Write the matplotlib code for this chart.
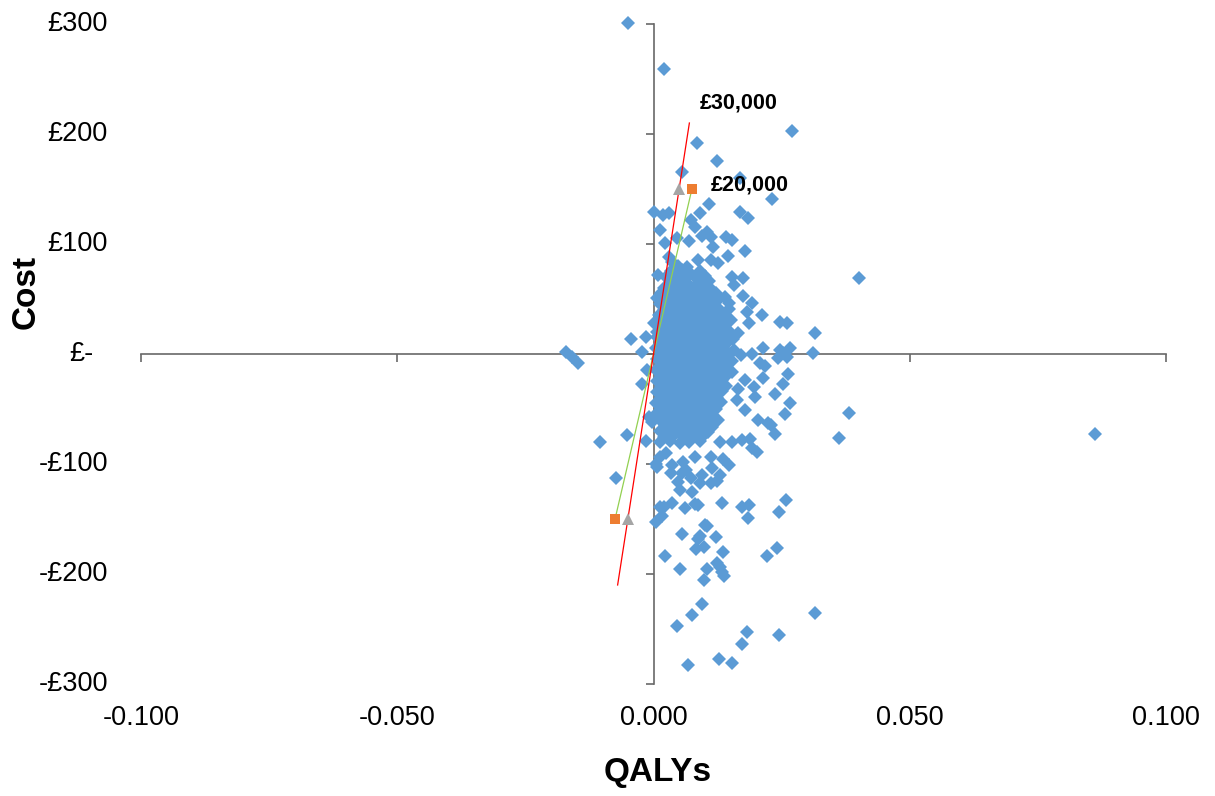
import matplotlib.pyplot as plt

plt.rcParams['font.family'] = ['Liberation Sans', 'DejaVu Sans']

outer_pts = [
    (-0.0049, 301), (0.0020, 259), (0.0084, 192), (0.0271, 203), (0.0123, 175),
    (0.0055, 165), (0.0168, 160), (0.0232, 141), (0.0109, 136), (0.0000, 129),
    (0.0018, 126), (0.0031, 128), (0.0168, 129), (0.0184, 124), (0.0074, 122),
    (0.0090, 128), (0.0012, 113), (0.0080, 115), (0.0104, 111), (0.0094, 107),
    (0.0113, 106), (0.0141, 106), (0.0154, 104), (0.0045, 105), (0.0070, 103),
    (0.0023, 101), (0.0117, 97), (0.0178, 94), (0.0145, 89), (0.0086, 85),
    (0.0113, 85), (0.0125, 83), (0.0031, 88), (0.0037, 84), (0.0008, 72),
    (0.0154, 70), (0.0174, 69), (0.0158, 63), (0.0139, 52), (0.0174, 53),
    (0.0148, 46), (0.0193, 46), (0.0006, 51), (0.0211, 35), (0.0186, 28),
    (0.0246, 29), (0.0260, 28), (0.0000, 28), (-0.0043, 14), (-0.0014, 15),
    (0.0006, 20), (-0.0023, 2), (-0.0170, 2), (-0.0160, -3), (-0.0148, -8),
    (0.0213, 5), (0.0246, 4), (0.0266, 5), (0.0193, 0), (0.0242, -4),
    (0.0260, -3), (0.0207, -8), (0.0400, 69), (0.0316, 19), (0.0312, 1),
    (0.0252, 1), (0.0182, 38), (0.0262, -18), (0.0252, -27), (0.0238, -36),
    (0.0266, -45), (0.0256, -55), (0.0199, -39), (0.0213, -22), (0.0217, -11),
    (0.0164, -32), (0.0178, -24), (0.0197, -30), (0.0162, -42), (0.0178, -51),
    (0.0203, -60), (0.0223, -63), (0.0230, -65), (0.0238, -73), (0.0188, -77),
    (0.0172, -78), (0.0193, -85), (0.0201, -89), (0.0381, -54), (0.0361, -76),
    (0.0861, -73),
    (-0.0023, -27), (-0.0012, -15), (-0.0008, -57), (-0.0002, -62), (-0.0051, -74),
    (-0.0105, -80), (-0.0014, -79), (-0.0074, -113),
]

lower_pts = [
    (0.0006, -103), (0.0012, -94), (0.0025, -90), (0.0037, -101), (0.0057, -98),
    (0.0080, -94), (0.0113, -94), (0.0135, -95), (0.0148, -101), (0.0129, -80),
    (0.0154, -80), (0.0115, -104), (0.0129, -110), (0.0123, -115), (0.0113, -117),
    (0.0094, -110), (0.0090, -117), (0.0074, -113), (0.0064, -105), (0.0055, -108),
    (0.0047, -116), (0.0051, -124), (0.0035, -108), (0.0076, -125), (0.0004, -100),
    (0.0012, -139), (0.0021, -139), (0.0037, -135), (0.0004, -153), (0.0016, -147),
    (0.0062, -140), (0.0080, -136), (0.0086, -137), (0.0133, -135), (0.0172, -139),
    (0.0186, -137), (0.0184, -149), (0.0244, -144), (0.0258, -133), (0.0055, -164),
    (0.0100, -155), (0.0105, -156), (0.0090, -165), (0.0086, -168), (0.0121, -166),
    (0.0082, -177), (0.0098, -175), (0.0135, -180), (0.0023, -184), (0.0051, -195),
    (0.0105, -195), (0.0123, -190), (0.0129, -194), (0.0133, -198), (0.0137, -202),
    (0.0098, -205), (0.0221, -184), (0.0240, -176), (0.0094, -227), (0.0076, -237),
    (0.0045, -247), (0.0316, -235), (0.0182, -253), (0.0172, -264), (0.0244, -255),
    (0.0068, -283), (0.0127, -277), (0.0154, -281),
]

core_pts = [
    (0.0048, 80), (0.0066, 79),
    (0.0035, 75), (0.0055, 76), (0.0072, 74), (0.0090, 75),
    (0.0024, 70), (0.0042, 71), (0.0063, 69), (0.0081, 70), (0.0100, 71),
    (0.0033, 65), (0.0052, 66), (0.0068, 64), (0.0091, 65), (0.0108, 66),
    (0.0021, 60), (0.0040, 61), (0.0058, 59), (0.0077, 60), (0.0096, 61), (0.0113, 59),
    (0.0014, 55), (0.0031, 56), (0.0049, 54), (0.0066, 55), (0.0085, 56), (0.0102, 54), (0.0121, 55),
    (0.0022, 50), (0.0040, 51), (0.0059, 49), (0.0076, 50), (0.0093, 51), (0.0110, 49), (0.0128, 50),
    (0.0012, 45), (0.0030, 46), (0.0048, 44), (0.0067, 45), (0.0085, 46), (0.0102, 44), (0.0119, 45),
    (0.0021, 40), (0.0039, 41), (0.0057, 39), (0.0075, 40), (0.0094, 41), (0.0111, 39), (0.0130, 40), (0.0147, 41),
    (0.0011, 35), (0.0029, 36), (0.0048, 34), (0.0066, 35), (0.0084, 36), (0.0103, 34), (0.0121, 35), (0.0138, 36),
    (0.0020, 30), (0.0038, 31), (0.0057, 29), (0.0074, 30), (0.0093, 31), (0.0111, 29), (0.0129, 30), (0.0152, 31),
    (0.0008, 25), (0.0028, 26), (0.0046, 24), (0.0065, 25), (0.0083, 26), (0.0101, 24), (0.0120, 25), (0.0139, 26),
    (0.0018, 20), (0.0037, 21), (0.0055, 19), (0.0074, 20), (0.0092, 21), (0.0110, 19), (0.0128, 20), (0.0147, 21), (0.0165, 19),
    (0.0007, 15), (0.0027, 16), (0.0046, 14), (0.0064, 15), (0.0082, 16), (0.0101, 14), (0.0119, 15), (0.0137, 16), (0.0156, 14),
    (0.0017, 10), (0.0036, 11), (0.0054, 9), (0.0073, 10), (0.0091, 11), (0.0109, 9), (0.0128, 10), (0.0146, 11),
    (0.0005, 5), (0.0026, 6), (0.0045, 4), (0.0063, 5), (0.0081, 6), (0.0100, 4), (0.0118, 5), (0.0136, 6), (0.0158, 4),
    (0.0016, 0), (0.0035, 1), (0.0053, -1), (0.0072, 0), (0.0090, 1), (0.0108, -1), (0.0127, 0), (0.0145, 1), (0.0170, -1),
    (0.0006, -5), (0.0025, -4), (0.0044, -6), (0.0062, -5), (0.0081, -4), (0.0099, -6), (0.0117, -5), (0.0136, -4), (0.0154, -6),
    (0.0016, -10), (0.0034, -9), (0.0053, -11), (0.0071, -10), (0.0089, -9), (0.0108, -11), (0.0126, -10), (0.0144, -9),
    (0.0005, -15), (0.0025, -14), (0.0043, -16), (0.0062, -15), (0.0080, -14), (0.0098, -16), (0.0117, -15), (0.0135, -14), (0.0153, -16),
    (0.0015, -20), (0.0034, -19), (0.0052, -21), (0.0070, -20), (0.0089, -19), (0.0107, -21), (0.0125, -20), (0.0143, -19),
    (0.0006, -25), (0.0024, -24), (0.0043, -26), (0.0061, -25), (0.0079, -24), (0.0098, -26), (0.0116, -25), (0.0134, -24),
    (0.0015, -30), (0.0033, -29), (0.0051, -31), (0.0070, -30), (0.0088, -29), (0.0106, -31), (0.0124, -30), (0.0142, -29),
    (0.0006, -35), (0.0024, -34), (0.0042, -36), (0.0060, -35), (0.0079, -34), (0.0097, -36), (0.0115, -35), (0.0133, -34),
    (0.0014, -40), (0.0032, -39), (0.0051, -41), (0.0069, -40), (0.0087, -39), (0.0105, -41), (0.0123, -40),
    (0.0005, -45), (0.0023, -44), (0.0042, -46), (0.0060, -45), (0.0078, -44), (0.0096, -46), (0.0114, -45), (0.0131, -44),
    (0.0014, -50), (0.0032, -49), (0.0050, -51), (0.0068, -50), (0.0087, -49), (0.0104, -51), (0.0122, -50),
    (0.0004, -55), (0.0023, -54), (0.0041, -56), (0.0059, -55), (0.0077, -54), (0.0095, -56), (0.0113, -55),
    (0.0013, -60), (0.0031, -59), (0.0050, -61), (0.0068, -60), (0.0086, -59), (0.0104, -61), (0.0125, -60),
    (0.0022, -65), (0.0040, -64), (0.0058, -66), (0.0079, -65), (0.0096, -64), (0.0115, -66),
    (0.0012, -70), (0.0031, -69), (0.0049, -71), (0.0068, -70), (0.0088, -69), (0.0107, -71),
    (0.0021, -75), (0.0040, -74), (0.0060, -76), (0.0078, -75), (0.0099, -74),
    (0.0013, -80), (0.0032, -79), (0.0051, -81), (0.0070, -80), (0.0090, -79),
]

# threshold markers and lines
wtp20_q = [-0.0075, 0.0075]
wtp20_c = [-150, 150]
wtp30_q = [-0.005, 0.005]
wtp30_c = [-150, 150]
line30_q = [-0.007, 0.007]
line30_c = [-210, 210]

x_ticks = [-0.1, -0.05, 0.0, 0.05, 0.1]
x_labels = ['-0.100', '-0.050', '0.000', '0.050', '0.100']
y_ticks = [300, 200, 100, 0, -100, -200, -300]
y_labels = ['£300', '£200', '£100', '£-', '-£100', '-£200', '-£300']

all_pts = outer_pts + lower_pts + core_pts
qaly = [p[0] for p in all_pts]
cost = [p[1] for p in all_pts]

fig = plt.figure(figsize=(12.15, 7.96), dpi=100)
ax = fig.add_axes([141 / 1215, 112 / 796, 1025 / 1215, 660 / 796])
ax.set_xlim(-0.1, 0.1)
ax.set_ylim(-300, 300)

axis_col = '#686868'
for side in ['top', 'right']:
    ax.spines[side].set_visible(False)
for side in ['left', 'bottom']:
    ax.spines[side].set_position(('data', 0))
    ax.spines[side].set_color(axis_col)
    ax.spines[side].set_linewidth(1.2)
ax.set_xticks(x_ticks)
ax.set_yticks(y_ticks)
ax.tick_params(axis='both', direction='out', length=6, width=1.2, color=axis_col,
               labelbottom=False, labelleft=False)

ax.plot(qaly, cost, ls='none', marker='D', ms=7.2, color='#5B9BD5', mew=0,
        zorder=3, clip_on=False)

ax.plot(wtp20_q, wtp20_c, color='#92D050', lw=0.9, zorder=4)
ax.plot(wtp20_q, wtp20_c, ls='none', marker='s', ms=6.5, color='#ED7D31', mew=0, zorder=5)
ax.plot(line30_q, line30_c, color='#FF0000', lw=0.9, zorder=4)
ax.plot(wtp30_q, wtp30_c, ls='none', marker='^', ms=8, color='#A5A5A5', mew=0, zorder=5)

ax.text(0.0090, 228, '£30,000', fontsize=15.5, fontweight='bold', va='center', ha='left')
ax.text(0.0111, 154, '£20,000', fontsize=15.5, fontweight='bold', va='center', ha='left')

for xv, lbl in zip(x_ticks, x_labels):
    ax.annotate(lbl, xy=(xv, 0), xycoords=('data', 'axes fraction'),
                xytext=(0, -34), textcoords='offset pixels',
                ha='center', va='center', fontsize=19.5)
for yv, lbl in zip(y_ticks, y_labels):
    off = -48 if lbl == '£-' else -33
    ax.annotate(lbl, xy=(0, yv), xycoords=('axes fraction', 'data'),
                xytext=(off, 0), textcoords='offset pixels',
                ha='right', va='center', fontsize=19.5)

fig.text(658 / 1215, 1 - 772 / 796, 'QALYs', fontsize=24, fontweight='bold',
         ha='center', va='center')
fig.text(26 / 1215, 1 - 292 / 796, 'Cost', fontsize=24, fontweight='bold',
         ha='center', va='center', rotation=90)

fig.savefig('out.png', dpi=100)
